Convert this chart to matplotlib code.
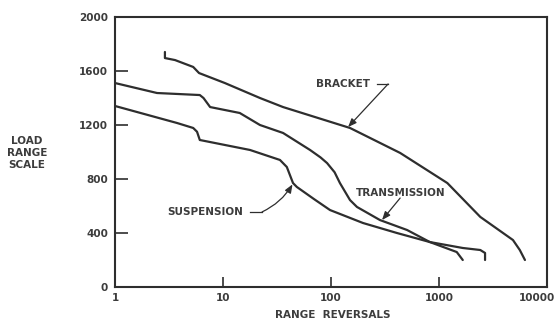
import matplotlib
matplotlib.use("Agg")
import matplotlib.pyplot as plt
from matplotlib.transforms import ScaledTranslation

# Load-range spectra: cumulative range reversals vs. load range
bracket_x = [2.9, 2.9, 3.6, 5.3, 6.0, 10.4, 22, 36, 150, 437, 1195, 2413, 4840, 5600, 6250]
bracket_y = [1741, 1696, 1681, 1630, 1585, 1511, 1400, 1333, 1178, 993, 770, 519, 348, 274, 200]

transmission_x = [1.0, 2.45, 6.1, 6.6, 7.6, 14.3, 22, 36, 64, 80, 92, 108, 121, 150, 174, 284, 507, 823, 1460, 1660]
transmission_y = [1511, 1437, 1422, 1400, 1333, 1289, 1200, 1141, 1015, 960, 918, 850, 770, 644, 593, 496, 422, 333, 259, 200]

suspension_x = [1.0, 3.75, 5.3, 5.75, 6.1, 17.8, 33.7, 39, 44.5, 48.3, 70, 98, 198, 408, 823, 1660, 2413, 2670, 2670]
suspension_y = [1341, 1215, 1178, 1150, 1089, 1015, 941, 889, 770, 741, 650, 570, 474, 400, 333, 289, 274, 252, 200]

x_ticks = [1, 10, 100, 1000, 10000]
x_tick_labels = ["1", "10", "100", "1000", "10000"]
y_ticks = [0, 400, 800, 1200, 1600, 2000]
y_tick_labels = ["0", "400", "800", "1200", "1600", "2000"]

INK = "#2e2e2e"
TEXT = "#3c3c3c"
FONT = dict(family="DejaVu Sans", weight="bold", color=TEXT)

fig = plt.figure(figsize=(5.56, 3.24), dpi=100)
ax = fig.add_axes([0.2068, 0.1142, 0.7770, 0.8333])

for xs, ys in [(bracket_x, bracket_y), (transmission_x, transmission_y), (suspension_x, suspension_y)]:
    ax.plot(xs, ys, color=INK, lw=1.6, solid_joinstyle="round", solid_capstyle="round")

ax.set_xscale("log")
ax.set_xlim(1, 10000)
ax.set_ylim(0, 2000)
ax.set_xticks(x_ticks)
ax.set_xticklabels(x_tick_labels)
ax.set_yticks(y_ticks)
ax.set_yticklabels(y_tick_labels)
ax.minorticks_off()
ax.tick_params(axis="x", direction="in", length=7, width=1.2, color=INK, pad=4,
               labelsize=7.5, labelcolor=TEXT)
ax.tick_params(axis="y", direction="in", length=9, width=1.2, color=INK, pad=5,
               labelsize=7.5, labelcolor=TEXT)
for lab in ax.get_xticklabels() + ax.get_yticklabels():
    lab.set_fontweight("bold")

# keep the last x label inside the figure, flush with its right edge
last = ax.get_xticklabels()[-1]
last.set_horizontalalignment("right")
last.set_transform(last.get_transform() + ScaledTranslation(8 / 100, 0, fig.dpi_scale_trans))

for sp in ax.spines.values():
    sp.set_color(INK)
    sp.set_linewidth(1.5)

# Curve labels with leader arrows
arrow_kw = dict(arrowstyle="-|>,head_length=0.5,head_width=0.2", color=INK, lw=0.9,
                shrinkA=0, shrinkB=0)

ax.text(230, 1504, "BRACKET", ha="right", va="center", fontsize=7.5, **FONT)
ax.plot([265, 338], [1504, 1504], color=INK, lw=0.9)
ax.annotate("", xy=(144, 1185), xytext=(338, 1504), arrowprops=arrow_kw)

ax.text(443, 696, "TRANSMISSION", ha="center", va="center", fontsize=7.5, **FONT)
ax.annotate("", xy=(297, 496), xytext=(437, 659), arrowprops=arrow_kw)

ax.text(15.3, 556, "SUSPENSION", ha="right", va="center", fontsize=7.5, **FONT)
ax.plot([17.8, 23.0], [556, 556], color=INK, lw=0.9)
ax.annotate("", xy=(44, 760), xytext=(23.0, 556),
            arrowprops=dict(arrow_kw, connectionstyle="arc3,rad=0.15"))

fig.text(27 / 556, 1 - 153 / 324, "LOAD\nRANGE\nSCALE", ha="center", va="center",
         fontsize=7.5, linespacing=1.3, **FONT)
fig.text(333 / 556, 1 - 315 / 324, "RANGE  REVERSALS", ha="center", va="center",
         fontsize=7.5, **FONT)

fig.savefig("out.png", dpi=100)
